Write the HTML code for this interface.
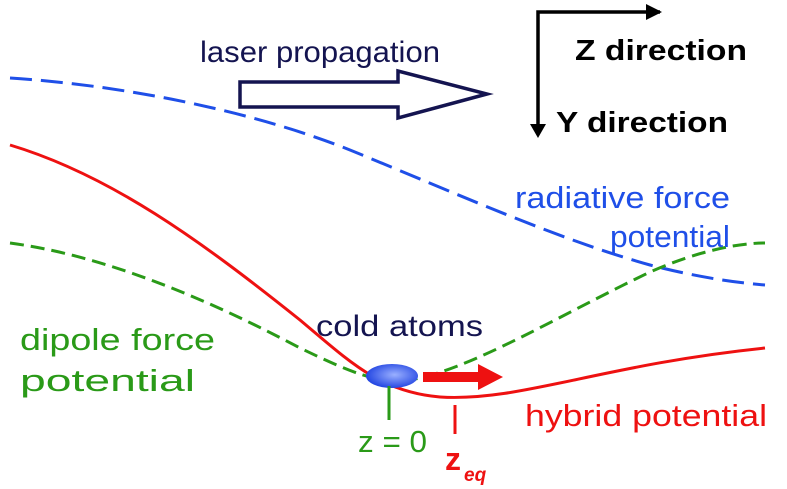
<!DOCTYPE html>
<html><head><style>body{margin:0;background:#fff}svg{display:block}</style></head><body>
<svg width="787" height="489" viewBox="0 0 787 489" xmlns="http://www.w3.org/2000/svg" font-family="Liberation Sans, Arial, sans-serif">
<defs><radialGradient id="g" cx="0.55" cy="0.45" r="0.6"><stop offset="0" stop-color="#9ab0ff"/><stop offset="1" stop-color="#1a3ee0"/></radialGradient></defs>
<text x="200" y="62" font-size="30" fill="#141450" textLength="240" lengthAdjust="spacingAndGlyphs">laser propagation</text>
<path d="M240 82 H398 V71 L487 94 L398 118 V107 H240 Z" fill="#fff" stroke="#141450" stroke-width="3.5" stroke-linejoin="miter"/>
<path d="M660 12 H538 V128" fill="none" stroke="#000" stroke-width="3.5"/>
<path d="M646 4 L662 12 L646 20 Z M530 124 L538 138 L546 124 Z" fill="#000"/>
<text x="575" y="60" font-size="29" font-weight="bold" fill="#000" textLength="172" lengthAdjust="spacingAndGlyphs">Z direction</text>
<text x="556" y="132" font-size="29" font-weight="bold" fill="#000" textLength="172" lengthAdjust="spacingAndGlyphs">Y direction</text>
<path d="M10 78 C120 85 250 110 350 150 C460 195 560 240 650 265 C700 278 740 283 765 285" fill="none" stroke="#1f4fe8" stroke-width="3" stroke-dasharray="22 9"/>
<path d="M10 145 C110 175 200 240 300 320 C350 362 380 392 440 397 C520 402 600 365 765 348" fill="none" stroke="#ee1111" stroke-width="3"/>
<path d="M10 243 C100 255 200 295 300 348 C350 372 380 385 410 380 C470 370 560 315 650 272 C700 250 740 243 765 243" fill="none" stroke="#2a9a18" stroke-width="3" stroke-dasharray="14 7"/>
<text x="515" y="208" font-size="31" fill="#1f4fe8" textLength="215" lengthAdjust="spacingAndGlyphs">radiative force</text>
<text x="610" y="247" font-size="31" fill="#1f4fe8" textLength="120" lengthAdjust="spacingAndGlyphs">potential</text>
<text x="20" y="350" font-size="31" fill="#2a9a18" textLength="195" lengthAdjust="spacingAndGlyphs">dipole force</text>
<text x="20" y="391" font-size="31" fill="#2a9a18" textLength="175" lengthAdjust="spacingAndGlyphs">potential</text>
<text x="316" y="336" font-size="30" fill="#141450" textLength="167" lengthAdjust="spacingAndGlyphs">cold atoms</text>
<text x="525" y="426" font-size="31" fill="#ee1111" textLength="242" lengthAdjust="spacingAndGlyphs">hybrid potential</text>
<ellipse cx="392" cy="376" rx="26" ry="12" fill="url(#g)"/>
<path d="M423 372 H478 V364 L503 377 L478 390 V382 H423 Z" fill="#ee1111"/>
<line x1="389" y1="386" x2="389" y2="420" stroke="#2a9a18" stroke-width="3"/>
<line x1="455" y1="405" x2="455" y2="434" stroke="#ee1111" stroke-width="3"/>
<text x="358" y="452" font-size="31" fill="#2a9a18" textLength="69" lengthAdjust="spacingAndGlyphs">z = 0</text>
<text x="445" y="470" font-size="32" font-weight="bold" fill="#ee1111">z</text>
<text x="464" y="481" font-size="19" font-weight="bold" font-style="italic" fill="#ee1111">eq</text>
</svg>
</body></html>
